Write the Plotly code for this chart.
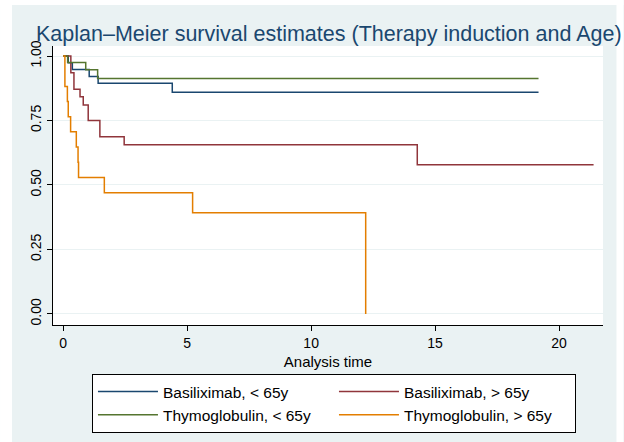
import plotly.graph_objects as go

# ---- data ----
groups = ["Basiliximab, < 65y", "Basiliximab, > 65y", "Thymoglobulin, < 65y", "Thymoglobulin, > 65y"]

t_basi_young = [0, 0.205, 0.37, 1.05, 1.41, 4.40, 19.17]
s_basi_young = [1.0, 0.974, 0.948, 0.921, 0.895, 0.860, 0.860]

t_basi_old = [0, 0.31, 0.435, 0.68, 0.81, 1.01, 1.48, 2.46, 14.28, 21.39]
s_basi_old = [1.0, 0.935, 0.871, 0.842, 0.81, 0.75, 0.687, 0.656, 0.578, 0.578]

t_thymo_young = [0, 0.18, 0.91, 1.39, 19.17]
s_thymo_young = [1.0, 0.975, 0.947, 0.913, 0.913]

t_thymo_old = [0, 0.07, 0.17, 0.205, 0.30, 0.53, 0.60, 0.62, 1.66, 5.22, 12.2]
s_thymo_old = [1.0, 0.882, 0.824, 0.765, 0.706, 0.647, 0.588, 0.529, 0.47, 0.392, 0.0]

colors = ["#1a476f", "#90353b", "#55752f", "#e37e00"]

x_ticks = [0, 5, 10, 15, 20]
y_ticks = [0, 0.25, 0.5, 0.75, 1.0]
y_ticktext = ["0.00", "0.25", "0.50", "0.75", "1.00"]

series = [
    (t_basi_young, s_basi_young),
    (t_basi_old, s_basi_old),
    (t_thymo_young, s_thymo_young),
    (t_thymo_old, s_thymo_old),
]

W, H = 624, 442
L, R, T, B = 53, 603.5, 46, 325
pw, ph = R - L, B - T

fig = go.Figure()
for name, (t, s), c in zip(groups, series, colors):
    fig.add_trace(go.Scatter(x=t, y=s, mode="lines", name=name,
                             line=dict(color=c, width=1.5, shape="hv")))

font = "Liberation Sans, Arial, Helvetica, sans-serif"
bg = "#eaf2f3"

def px_x(p):
    return (p - L) / pw

def px_y(p):
    return (B - p) / ph

shapes = [
    # white outer strips of the image
    dict(type="rect", xref="paper", yref="paper", x0=px_x(0), x1=px_x(12), y0=px_y(442), y1=px_y(0),
         fillcolor="white", line_width=0, layer="below"),
    dict(type="rect", xref="paper", yref="paper", x0=px_x(0), x1=px_x(624), y0=px_y(5), y1=px_y(0),
         fillcolor="white", line_width=0, layer="below"),
    dict(type="rect", xref="paper", yref="paper", x0=px_x(617), x1=px_x(624), y0=px_y(442), y1=px_y(0),
         fillcolor="white", line_width=0, layer="below"),
]

fig.update_layout(
    width=W, height=H,
    margin=dict(l=L, r=W - R, t=T, b=H - B, pad=0, autoexpand=False),
    paper_bgcolor=bg, plot_bgcolor="white",
    font=dict(family=font, color="black", size=14),
    title=dict(text="Kaplan–Meier survival estimates (Therapy induction and Age)",
               font=dict(family=font, size=21.5, color="#1a476f"),
               xref="container", yref="container", x=36 / W, xanchor="left",
               y=1 - 33 / H, yanchor="middle"),
    showlegend=True,
    legend=dict(orientation="h", x=px_x(92), y=px_y(374), xanchor="left", yanchor="top",
                bgcolor="white", bordercolor="black", borderwidth=1,
                font=dict(family=font, size=15.5, color="black"),
                entrywidth=166, entrywidthmode="pixels", itemwidth=60,
                traceorder="normal", tracegroupgap=0),
    shapes=shapes,
)

fig.update_xaxes(range=[-0.41, 21.77], tickvals=x_ticks, ticktext=[str(v) for v in x_ticks],
                 showgrid=False, zeroline=False, showline=True, linecolor="black", linewidth=1,
                 ticks="outside", ticklen=5, tickcolor="black", tickwidth=1,
                 tickfont=dict(size=14),
                 title=dict(text="Analysis time", font=dict(size=15), standoff=6))
fig.update_yaxes(range=[-0.043, 1.039], tickvals=y_ticks, ticktext=y_ticktext, tickangle=-90,
                 showgrid=True, gridcolor=bg, gridwidth=1, zeroline=False,
                 showline=True, linecolor="black", linewidth=1,
                 ticks="outside", ticklen=5, tickcolor="black", tickwidth=1,
                 tickfont=dict(size=14))

fig.write_html("out.html")
